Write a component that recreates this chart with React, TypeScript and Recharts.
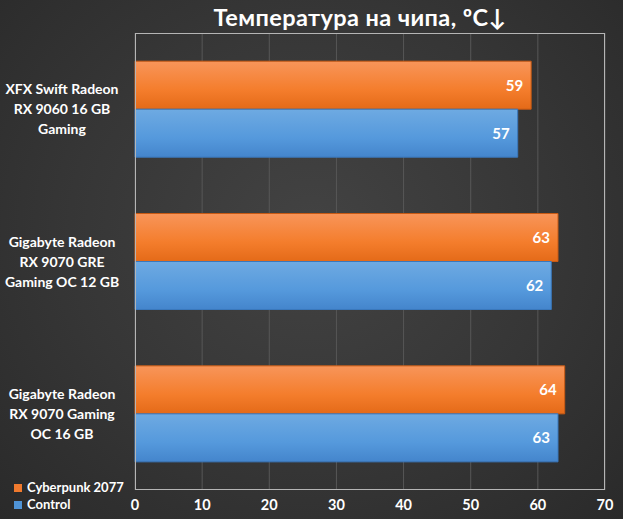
import { BarChart, Bar, XAxis, YAxis, CartesianGrid, LabelList } from "recharts"

const cards = [
  "XFX Swift Radeon|RX 9060 16 GB|Gaming",
  "Gigabyte Radeon|RX 9070 GRE|Gaming OC 12 GB",
  "Gigabyte Radeon|RX 9070 Gaming|OC 16 GB",
]
const cyberpunk = [59, 63, 64]
const control = [57, 62, 63]
const xTicks = [0, 10, 20, 30, 40, 50, 60, 70]

const data = cards.map((name, i) => ({ name, cyberpunk: cyberpunk[i], control: control[i] }))

const font = "Lato, 'Open Sans', sans-serif"

function CardTick(props: any) {
  const { y, payload } = props
  const lines: string[] = String(payload.value).split("|")
  const start = y - ((lines.length - 1) * 20) / 2
  return (
    <text x={62} y={start} textAnchor="middle" fill="#fff" fontSize={14} fontWeight={700} fontFamily={font}>
      {lines.map((l, i) => (
        <tspan key={i} x={62} y={start + i * 20} dy={5}>
          {l}
        </tspan>
      ))}
    </text>
  )
}

export default function App() {
  return (
    <div
      style={{
        position: "absolute",
        left: 0,
        top: 0,
        width: 623,
        height: 519,
        background: "radial-gradient(ellipse at 50% 45%, #434343 0%, #363636 55%, #2a2a2a 100%)",
        fontFamily: font,
      }}
    >
      <div
        style={{
          position: "absolute",
          left: 150,
          width: 420,
          top: 3,
          textAlign: "center",
          color: "#fff",
          fontWeight: 700,
          fontSize: 23.5,
          letterSpacing: 0.4,
        }}
      >
        Температура на чипа, ºC↓
      </div>
      <div style={{ position: "absolute", left: 14, top: 479, color: "#fff", fontSize: 13, fontWeight: 700, lineHeight: "17px" }}>
        <div style={{ display: "flex", alignItems: "center" }}>
          <span style={{ width: 8, height: 8, background: "#f07a2e", marginRight: 5, display: "inline-block" }} />
          Cyberpunk 2077
        </div>
        <div style={{ display: "flex", alignItems: "center" }}>
          <span style={{ width: 8, height: 8, background: "#4f93d6", marginRight: 5, display: "inline-block" }} />
          Control
        </div>
      </div>
      <BarChart
        width={623}
        height={519}
        data={data}
        layout="vertical"
        margin={{ top: 33, right: 18, left: 0, bottom: 0 }}
        barCategoryGap="18.5%"
        barGap={0}
      >
        <defs>
          <linearGradient id="gOrange" x1="0" y1="0" x2="0" y2="1">
            <stop offset="0%" stopColor="#f8955a" />
            <stop offset="60%" stopColor="#f47d2c" />
            <stop offset="100%" stopColor="#e46a18" />
          </linearGradient>
          <linearGradient id="gBlue" x1="0" y1="0" x2="0" y2="1">
            <stop offset="0%" stopColor="#6eaae2" />
            <stop offset="60%" stopColor="#5599dc" />
            <stop offset="100%" stopColor="#4485cc" />
          </linearGradient>
        </defs>
        <CartesianGrid horizontal={false} stroke="#575757" strokeWidth={1} />
        <XAxis
          type="number"
          domain={[0, 70]}
          ticks={xTicks}
          axisLine={false}
          tickLine={false}
          height={29}
          tick={{ fill: "#fff", fontSize: 14.5, fontWeight: 700, fontFamily: font }}
          tickMargin={4}
        />
        <YAxis
          type="category"
          dataKey="name"
          width={135}
          axisLine={false}
          tickLine={false}
          tick={<CardTick />}
        />
        <Bar dataKey="cyberpunk" fill="url(#gOrange)" stroke="#c85a14" strokeWidth={1} isAnimationActive={false}>
          <LabelList dataKey="cyberpunk" position="insideRight" offset={8} fill="#fff" fontSize={15} fontWeight={700} fontFamily={font} />
        </Bar>
        <Bar dataKey="control" fill="url(#gBlue)" stroke="#3a78bc" strokeWidth={1} isAnimationActive={false}>
          <LabelList dataKey="control" position="insideRight" offset={8} fill="#fff" fontSize={15} fontWeight={700} fontFamily={font} />
        </Bar>
      </BarChart>
      <div
        style={{
          position: "absolute",
          left: 135,
          top: 33,
          width: 470,
          height: 457,
          border: "1.5px solid #b5b5b5",
          boxSizing: "border-box",
          pointerEvents: "none",
        }}
      />
    </div>
  )
}
